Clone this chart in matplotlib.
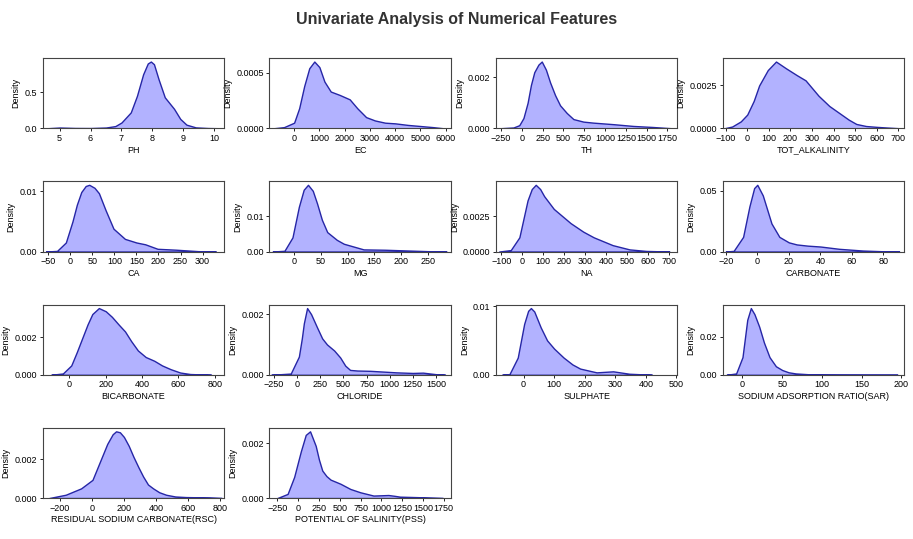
import matplotlib.pyplot as plt
from matplotlib.ticker import MaxNLocator, MultipleLocator

plt.rcParams['font.family'] = ['Liberation Sans Narrow', 'Liberation Sans', 'DejaVu Sans']

# Feature names
features = ['PH', 'EC', 'TH', 'TOT_ALKALINITY', 'CA', 'MG', 'NA', 'CARBONATE',
            'BICARBONATE', 'CHLORIDE', 'SULPHATE', 'SODIUM ADSORPTION RATIO(SAR)',
            'RESIDUAL SODIUM CARBONATE(RSC)', 'POTENTIAL OF SALINITY(PSS)']

# Density curves (x values, density values)
ph_x = [4.6, 5.0, 5.5, 6.0, 6.5, 6.8, 7.0, 7.3, 7.5, 7.7, 7.85, 7.95, 8.05, 8.2, 8.4, 8.55, 8.7, 8.9, 9.1, 9.4, 9.8, 10.2]
ph_y = [0.0, 0.01, 0.004, 0.003, 0.01, 0.03, 0.08, 0.22, 0.45, 0.75, 0.90, 0.927, 0.89, 0.68, 0.43, 0.35, 0.27, 0.13, 0.05, 0.012, 0.003, 0.0]

ec_x = [-800, -400, 0, 200, 400, 600, 800, 1000, 1200, 1450, 1800, 2200, 2500, 2850, 3200, 3600, 4000, 4500, 5000, 5500, 5900]
ec_y = [0, 0.00001, 0.00005, 0.00018, 0.00038, 0.00054, 0.0006, 0.00055, 0.00042, 0.00033, 0.0003, 0.00026, 0.00018,
        0.0001, 0.00007, 0.00005, 0.000044, 0.00003, 0.00002, 0.00001, 0]

th_x = [-260, -100, -30, 20, 70, 110, 150, 200, 240, 290, 340, 400, 460, 540, 620, 740, 860, 1100, 1340, 1570, 1800]
th_y = [0, 0.00003, 0.00012, 0.0004, 0.001, 0.0017, 0.0022, 0.0025, 0.00262, 0.0023, 0.0018, 0.0013, 0.0009, 0.0006,
        0.00036, 0.00026, 0.00022, 0.00016, 0.00009, 0.00005, 0]

tot_x = [-105, -70, -30, 0, 30, 55, 95, 133, 180, 230, 270, 330, 380, 425, 470, 505, 550, 600, 650, 705]
tot_y = [0, 0.0001, 0.0004, 0.0008, 0.0016, 0.0025, 0.0034, 0.0039, 0.0035, 0.0031, 0.0028, 0.0019, 0.0013, 0.0009,
         0.0005, 0.00025, 0.00013, 0.00008, 0.00004, 0]

ca_x = [-55, -30, -10, 5, 15, 25, 35, 43, 55, 65, 80, 98, 124, 150, 170, 198, 240, 290, 330]
ca_y = [0, 0.0001, 0.0015, 0.005, 0.0078, 0.0099, 0.0109, 0.0111, 0.0106, 0.0097, 0.0069, 0.0038, 0.0021, 0.0015,
        0.0012, 0.00045, 0.0003, 0.00006, 0]

mg_x = [-40, -18, -3, 9, 18, 26, 35, 43, 52, 62, 80, 93, 130, 170, 210, 250, 285]
mg_y = [0, 0.0002, 0.004, 0.0127, 0.0175, 0.0189, 0.0172, 0.0136, 0.009, 0.0055, 0.0033, 0.0022, 0.0006, 0.0005,
        0.0003, 0.0001, 0]

na_x = [-110, -55, -14, 10, 25, 45, 64, 85, 104, 150, 230, 290, 340, 430, 510, 590, 700]
na_y = [0, 0.0001, 0.001, 0.0026, 0.0036, 0.0044, 0.0047, 0.0044, 0.0039, 0.003, 0.002, 0.0014, 0.001, 0.00045,
        0.00015, 0.00004, 0]

carb_x = [-20, -15, -9, -5, -2, 0, 3.5, 9, 14, 20, 25, 32, 40, 52, 67, 80, 90]
carb_y = [0, 0.0005, 0.012, 0.037, 0.052, 0.0547, 0.046, 0.023, 0.012, 0.0075, 0.0058, 0.0048, 0.0041, 0.0022,
          0.0008, 0.0002, 0]

bicarb_x = [-100, -36, 10, 40, 72, 100, 126, 162, 200, 234, 270, 306, 340, 377, 420, 467, 510, 557, 610, 665, 780]
bicarb_y = [0, 0.00007, 0.0005, 0.0012, 0.002, 0.0027, 0.00325, 0.00357, 0.0034, 0.0031, 0.0027, 0.00232, 0.0018,
            0.0013, 0.00095, 0.00075, 0.0005, 0.0003, 0.00012, 0.00004, 0]

cl_x = [-280, -70, 18, 50, 72, 107, 150, 215, 270, 322, 400, 465, 520, 572, 650, 790, 1070, 1250, 1360, 1500, 1600]
cl_y = [0, 0.00004, 0.0006, 0.0012, 0.0017, 0.0022, 0.002, 0.00156, 0.0012, 0.001, 0.0008, 0.00057, 0.0003, 0.00016,
        0.00014, 0.00013, 0.00008, 0.00006, 0.00007, 0.00002, 0]

so4_x = [-70, -46, -19, 2, 15, 24, 35, 56, 77, 100, 131, 160, 185, 239, 293, 346, 420]
so4_y = [0, 0.0001, 0.0025, 0.0074, 0.0093, 0.0097, 0.0092, 0.0069, 0.005, 0.0038, 0.0025, 0.0015, 0.0009, 0.00035,
         0.0005, 0.00015, 0]

sar_x = [-20, -8, 0, 6, 10.5, 15, 21, 27, 34, 42, 50, 58, 67, 90, 120, 150, 195]
sar_y = [0, 0.0007, 0.0093, 0.029, 0.0352, 0.032, 0.0254, 0.017, 0.0093, 0.0045, 0.0025, 0.0013, 0.0007, 0.0001,
         0.00004, 0.00002, 0]

rsc_x = [-266, -163, -67, 4, 55, 96, 130, 151, 175, 200, 230, 259, 290, 320, 350, 382, 420, 463, 520, 586, 660, 729, 810]
rsc_y = [0, 0.00017, 0.0005, 0.00094, 0.00197, 0.0028, 0.0033, 0.00345, 0.0034, 0.00316, 0.0027, 0.00214, 0.0016,
         0.00111, 0.0007, 0.0005, 0.0003, 0.00017, 0.00008, 0.00005, 0.00004, 0.00003, 0]

pss_x = [-250, -127, -48, 32, 91, 143, 211, 250, 290, 340, 390, 509, 628, 747, 906, 1000, 1085, 1160, 1224, 1463, 1741]
pss_y = [0, 0.00015, 0.00077, 0.0017, 0.0023, 0.00243, 0.0019, 0.0014, 0.001, 0.0008, 0.00067, 0.00052, 0.00033,
         0.00021, 0.00009, 0.0001, 0.00011, 0.00008, 0.00005, 0.00003, 0]

curves = [(ph_x, ph_y), (ec_x, ec_y), (th_x, th_y), (tot_x, tot_y), (ca_x, ca_y), (mg_x, mg_y),
          (na_x, na_y), (carb_x, carb_y), (bicarb_x, bicarb_y), (cl_x, cl_y), (so4_x, so4_y),
          (sar_x, sar_y), (rsc_x, rsc_y), (pss_x, pss_y)]

# Axis ranges and tick spacing per panel
xlims = [(4.46, 10.32), (-975, 6200), (-309, 1868), (-114, 725), (-62, 349), (-46, 293), (-125, 738),
         (-22, 93), (-146, 852), (-300, 1661), (-90, 503), (-25, 203), (-305, 825), (-345, 1835)]
xsteps = [1, 1000, 250, 100, 50, 50, 100, 20, 200, 250, 100, 50, 200, 250]

fig, axes = plt.subplots(4, 4, figsize=(9.13, 5.39), dpi=100)
fig.subplots_adjust(left=0.047, right=0.99, top=0.892, bottom=0.076, wspace=0.25, hspace=0.76)
fig.suptitle('Univariate Analysis of Numerical Features', fontsize=11.5, fontweight='bold',
             color='#333333', y=0.963, va='center')

for i, ax in enumerate(axes.flat):
    if i >= len(features):
        ax.remove()
        continue
    x, y = curves[i]
    ax.fill_between(x, y, facecolor=(0, 0, 1, 0.3), edgecolor='#2626a6', linewidth=1.0)
    ax.set_xlim(*xlims[i])
    ax.set_ylim(0, max(y) * 1.05)
    ax.xaxis.set_major_locator(MultipleLocator(xsteps[i]))
    ax.yaxis.set_major_locator(MaxNLocator(nbins=2, steps=[1, 2, 2.5, 5, 10]))
    ax.tick_params(labelsize=6.5, length=2.5, width=0.6, pad=1.5)
    ax.set_xlabel(features[i], fontsize=6.5, labelpad=2)
    ax.set_ylabel('Density', fontsize=6.5, labelpad=3)
    for s in ax.spines.values():
        s.set_linewidth(0.8)
        s.set_color('#444444')

plt.savefig('out.png', dpi=100)
